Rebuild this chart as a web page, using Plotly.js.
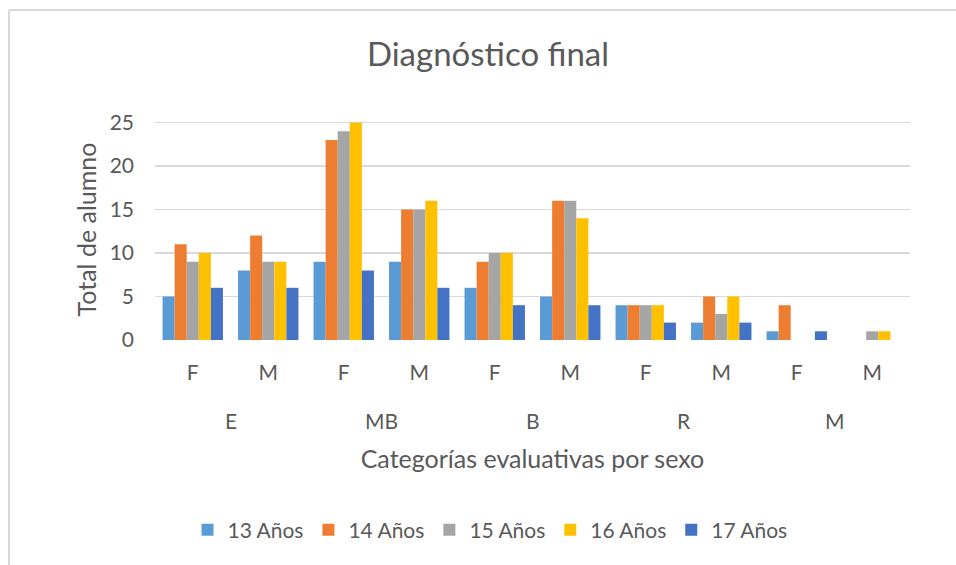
<!DOCTYPE html>
<html>
<head>
<meta charset="utf-8">
<script src="https://cdn.plot.ly/plotly-3.0.1.min.js"></script>
<style>body{margin:0;padding:0;background:#fff}#chart{width:956px;height:565px}</style>
</head>
<body>
<div id="chart"></div>
<script>
// Data
const groups = ["E", "MB", "B", "R", "M"];
const sexes = ["F", "M"];
const seriesNames = ["13 Años", "14 Años", "15 Años", "16 Años", "17 Años"];
const seriesColors = ["#5B9BD5", "#ED7D31", "#A5A5A5", "#FFC000", "#4472C4"];
// values in order: E-F, E-M, MB-F, MB-M, B-F, B-M, R-F, R-M, M-F, M-M
const v13 = [5, 8, 9, 9, 6, 5, 4, 2, 1, 0];
const v14 = [11, 12, 23, 15, 9, 16, 4, 5, 4, 0];
const v15 = [9, 9, 24, 15, 10, 16, 4, 3, 0, 1];
const v16 = [10, 9, 25, 16, 10, 14, 4, 5, 0, 1];
const v17 = [6, 6, 8, 6, 4, 4, 2, 2, 1, 0];
const seriesValues = [v13, v14, v15, v16, v17];

const cats = [];
const catText = [];
groups.forEach(g => sexes.forEach(s => { cats.push(g + "|" + s); catText.push(s); }));

const textColor = "#595959";
const fontFam = "Lato, 'Open Sans', sans-serif";

const traces = seriesNames.map((n, i) => ({
  type: "bar",
  name: n,
  x: cats,
  y: seriesValues[i],
  marker: {color: seriesColors[i]}
}));

// plot area pixels
const L = 155, R = 46, T = 119, B = 225;
const W = 956 - L - R, H = 565 - T - B;
const px = p => (p - L) / W;
const py = p => (565 - B - p) / H;

const annotations = groups.map((g, i) => ({
  x: i * 2 + 0.5, xref: "x",
  y: py(420), yref: "paper",
  text: g, showarrow: false,
  xanchor: "center", yanchor: "middle",
  font: {size: 21, color: textColor, family: fontFam}
}));

const layout = {
  width: 956, height: 565,
  margin: {l: L, r: R, t: T, b: B},
  paper_bgcolor: "#fff", plot_bgcolor: "#fff",
  title: {text: "Diagnóstico final", x: 488 / 956, xanchor: "center", y: 1 - 54 / 565, yanchor: "middle",
          font: {size: 33, color: textColor, family: fontFam}},
  barmode: "group",
  bargap: 0.2,
  bargroupgap: 0,
  showlegend: true,
  legend: {orientation: "h", x: px(490), xanchor: "center", y: py(530), yanchor: "middle",
           font: {size: 21, color: textColor, family: fontFam}, itemwidth: 30, tracegroupgap: 0},
  xaxis: {
    type: "category",
    tickvals: cats, ticktext: catText,
    tickfont: {size: 21, color: textColor, family: fontFam},
    ticks: "", showgrid: false, zeroline: false, showline: false,
    ticklabelstandoff: 18,
    title: {text: "Categorías evaluativas por sexo", standoff: 67,
            font: {size: 25, color: textColor, family: fontFam}}
  },
  yaxis: {
    range: [0, 25.4],
    tickvals: [0, 5, 10, 15, 20, 25],
    tickfont: {size: 21, color: textColor, family: fontFam},
    gridcolor: "#D9D9D9", gridwidth: 1.5,
    zeroline: false, showline: false, ticks: "",
    ticklabelstandoff: 20,
    title: {text: "Total de alumno", standoff: 5,
            font: {size: 25, color: textColor, family: fontFam}}
  },
  annotations: annotations,
  shapes: [
    {type: "line", xref: "paper", yref: "paper", x0: px(9), x1: px(9), y0: py(10), y1: py(600),
     line: {color: "#D9D9D9", width: 2}},
    {type: "line", xref: "paper", yref: "paper", x0: px(9), x1: px(1000), y0: py(10), y1: py(10),
     line: {color: "#D9D9D9", width: 2}}
  ]
};

Plotly.newPlot("chart", traces, layout, {displayModeBar: false, staticPlot: true});
</script>
</body>
</html>
